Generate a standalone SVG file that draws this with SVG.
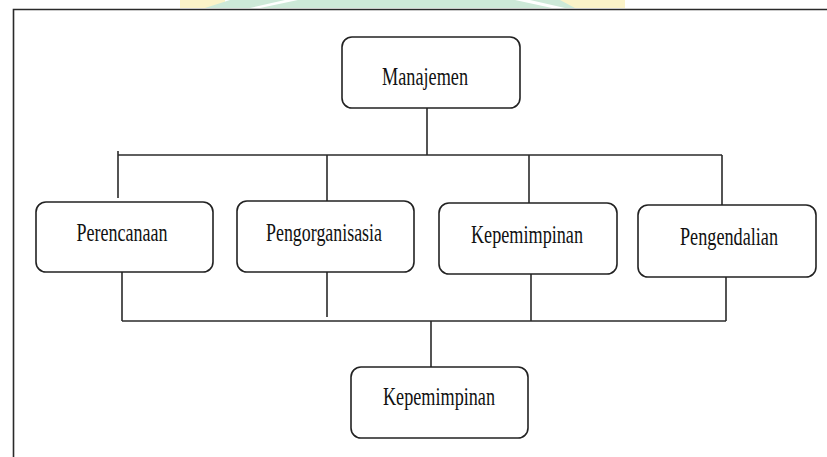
<svg xmlns="http://www.w3.org/2000/svg" width="827" height="457" viewBox="0 0 827 457">
<style>
.box{fill:#fff;stroke:#222;stroke-width:1.6}
.lbl{font-family:"Liberation Serif","Times New Roman",serif;font-size:25px;fill:#111;text-anchor:middle}
.ln{fill:none;stroke:#2a2a2a;stroke-width:1.6}
</style>
<rect width="827" height="457" fill="#fff"/>
<g id="watermark">
<rect x="180" y="0" width="45" height="8" fill="#fbf3c8"/>
<polygon points="205,8 230,0 600,0 590,8" fill="#cde9d8"/>
<polygon points="250,8 260,8 298,0 285,0" fill="#fff"/>
<polygon points="515,0 530,0 565,8 552,8" fill="#fff"/>
<polygon points="560,0 625,0 625,8 575,8" fill="#fbf3c8"/>
</g>
<g id="frame">
<path class="ln" d="M13.5,457 V9.5 H827" stroke-width="2"/>
</g>
<g id="connectors">
<path class="ln" d="M427,108 V155"/>
<path class="ln" d="M118,155 H722"/>
<path class="ln" d="M118,151 V198"/>
<path class="ln" d="M327,155 V201"/>
<path class="ln" d="M529,155 V203"/>
<path class="ln" d="M722,155 V205"/>
<path class="ln" d="M122,272 V321"/>
<path class="ln" d="M327,272 V317"/>
<path class="ln" d="M531,274 V321"/>
<path class="ln" d="M726,277 V321"/>
<path class="ln" d="M122,321 H726"/>
<path class="ln" d="M431,321 V367"/>
</g>
<g id="manajemen">
<rect class="box" x="342" y="37" width="178" height="71" rx="10"/>
<text class="lbl" x="425" y="85" textLength="86" lengthAdjust="spacingAndGlyphs">Manajemen</text>
</g>
<g id="perencanaan">
<rect class="box" x="36" y="202" width="177" height="70" rx="10"/>
<text class="lbl" x="122" y="241" textLength="91" lengthAdjust="spacingAndGlyphs">Perencanaan</text>
</g>
<g id="pengorganisasia">
<rect class="box" x="237" y="201" width="177" height="71" rx="10"/>
<text class="lbl" x="324" y="241" textLength="116" lengthAdjust="spacingAndGlyphs">Pengorganisasia</text>
</g>
<g id="kepemimpinan1">
<rect class="box" x="439" y="203" width="178" height="71" rx="10"/>
<text class="lbl" x="527" y="243" textLength="112" lengthAdjust="spacingAndGlyphs">Kepemimpinan</text>
</g>
<g id="pengendalian">
<rect class="box" x="638" y="205" width="178" height="72" rx="10"/>
<text class="lbl" x="729" y="245" textLength="98" lengthAdjust="spacingAndGlyphs">Pengendalian</text>
</g>
<g id="kepemimpinan2">
<rect class="box" x="351" y="367" width="177" height="71" rx="10"/>
<text class="lbl" x="439" y="405" textLength="112" lengthAdjust="spacingAndGlyphs">Kepemimpinan</text>
</g>
</svg>
